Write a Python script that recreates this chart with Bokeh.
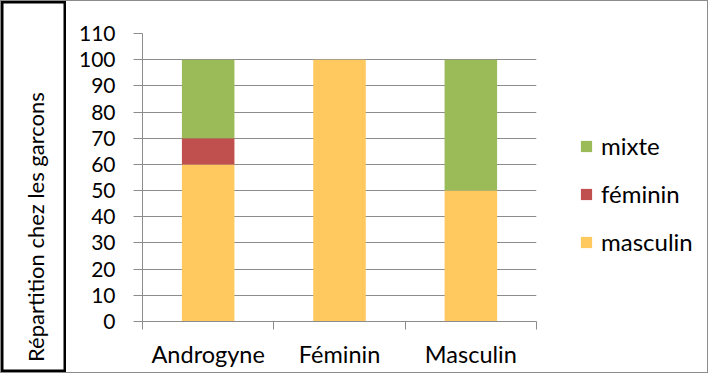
import numpy as np
from bokeh.plotting import figure
from bokeh.layouts import row
from bokeh.models import (Range1d, FixedTicker, Legend, LegendItem, Label,
                          ColumnDataSource)
from bokeh.embed import file_html
from bokeh.resources import INLINE

# ---- data ----
categories = ["Androgyne", "Féminin", "Masculin"]
series = ["masculin", "féminin", "mixte"]
masculin = [60, 100, 50]
feminin = [10, 0, 0]
mixte = [30, 0, 50]
colors = ["#FFC95F", "#C0504D", "#9BBB59"]
y_ticks = [0, 10, 20, 30, 40, 50, 60, 70, 80, 90, 100, 110]
y_title = "Répartition chez les garcons"

FONT = "Lato"
GRAY = "#8C8C8C"
H = 371

xpos = [i + 0.5 for i in range(len(categories))]
source = ColumnDataSource(dict(x=xpos, masculin=masculin, féminin=feminin, mixte=mixte))

# ---- left title box ----
ft = figure(width=65, height=H, output_backend="svg", toolbar_location=None,
            x_range=Range1d(0, 1), y_range=Range1d(0, 1),
            x_axis_location=None, y_axis_location=None, min_border=0)
ft.frame_align = False
ft.grid.visible = False
ft.outline_line_color = "black"
ft.outline_line_width = 4
ft.add_layout(Label(x=0.53, y=0.392, text=y_title, angle=np.pi / 2,
                    text_align="center", text_baseline="middle",
                    text_font=FONT, text_font_size="22px", text_color="black"))

# ---- main chart ----
p = figure(width=475, height=H, output_backend="svg", toolbar_location=None,
           x_range=Range1d(0, len(categories)), y_range=Range1d(0, max(y_ticks)),
           min_border_left=76, min_border_right=5, min_border_top=32,
           min_border_bottom=51)
p.frame_align = False
p.outline_line_color = None

renderers = p.vbar_stack(series, x="x", width=0.4, source=source, color=colors,
                         line_color=None)

p.xaxis.ticker = FixedTicker(ticks=xpos, minor_ticks=list(range(len(categories) + 1)))
p.xaxis.major_label_overrides = {xpos[i]: categories[i] for i in range(len(categories))}
p.xaxis.major_tick_line_color = None
p.xaxis.major_tick_out = 0
p.xaxis.major_tick_in = 0
p.xaxis.minor_tick_line_color = GRAY
p.xaxis.minor_tick_out = 8
p.xaxis.minor_tick_in = 0
p.xaxis.axis_line_color = GRAY
p.xaxis.major_label_standoff = 10
p.xaxis.major_label_text_font = FONT
p.xaxis.major_label_text_font_size = "23.5px"
p.xaxis.major_label_text_color = "black"

p.yaxis.ticker = FixedTicker(ticks=y_ticks)
p.yaxis.major_tick_line_color = GRAY
p.yaxis.major_tick_out = 9
p.yaxis.major_tick_in = 0
p.yaxis.minor_tick_line_color = None
p.yaxis.axis_line_color = GRAY
p.yaxis.major_label_standoff = 18
p.yaxis.major_label_text_font = FONT
p.yaxis.major_label_text_font_size = "21px"
p.yaxis.major_label_text_color = "black"

p.xgrid.grid_line_color = None
p.ygrid.grid_line_color = GRAY
p.ygrid.grid_line_width = 1

# ---- legend panel ----
fl = figure(width=166, height=H, output_backend="svg", toolbar_location=None,
            x_range=Range1d(0, 1), y_range=Range1d(0, 1),
            x_axis_location=None, y_axis_location=None, min_border=0)
fl.frame_align = False
fl.grid.visible = False
fl.outline_line_color = None
swatches = fl.vbar_stack(series, x="x", width=0.4, source=source, color=colors,
                         line_color=None, visible=False)
items = [LegendItem(label=series[i], renderers=[swatches[i]]) for i in (2, 1, 0)]
legend = Legend(items=items, location=(38, 116), orientation="vertical")
legend.border_line_color = None
legend.background_fill_color = None
legend.padding = 0
legend.margin = 0
legend.spacing = 19
legend.glyph_width = 14
legend.glyph_height = 14
legend.label_standoff = 8
legend.label_text_font = FONT
legend.label_text_font_size = "24px"
legend.label_text_color = "black"
fl.add_layout(legend)

layout = row(ft, p, fl, spacing=0)
layout.styles = {"border": "1px solid #8C8C8C"}

open("out.html", "w").write(file_html(layout, INLINE))
